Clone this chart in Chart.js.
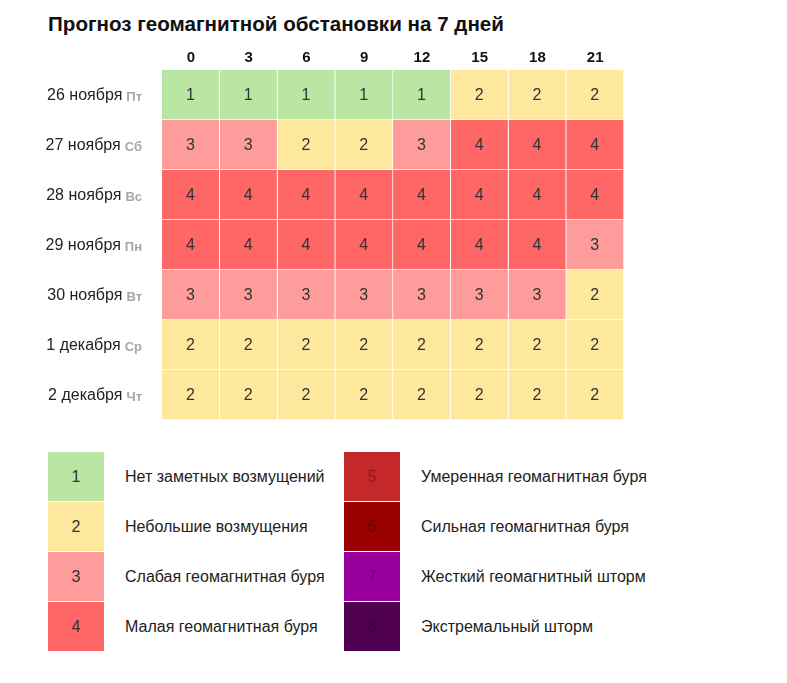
<!DOCTYPE html>
<html><head><meta charset="utf-8">
<script src="https://cdn.jsdelivr.net/npm/chart.js@4/dist/chart.umd.min.js"></script>
<style>
body{margin:0;background:#fff;font-family:"Liberation Sans",Arial,sans-serif;width:787px;height:683px;position:relative;overflow:hidden}
#title{position:absolute;left:48px;top:12px;font-weight:bold;font-size:20.6px;color:#111;white-space:nowrap}
#wrap{position:absolute;left:0;top:0;width:787px;height:430px}
.lg{position:absolute;width:56px;height:49px;text-align:center;line-height:49px;font-size:16px}
.lt{position:absolute;font-size:16px;color:#222;line-height:49px;white-space:nowrap}
</style></head><body>
<div id="title">Прогноз геомагнитной обстановки на 7 дней</div>
<div id="wrap"><canvas id="c" width="787" height="430"></canvas></div>
<div id="legend"></div>
<script>
const hours = ['0','3','6','9','12','15','18','21'];
const dates = ['26 ноября','27 ноября','28 ноября','29 ноября','30 ноября','1 декабря','2 декабря'];
const weekdays = ['Пт','Сб','Вс','Пн','Вт','Ср','Чт'];
const row26 = [1,1,1,1,1,2,2,2];
const row27 = [3,3,2,2,3,4,4,4];
const row28 = [4,4,4,4,4,4,4,4];
const row29 = [4,4,4,4,4,4,4,3];
const row30 = [3,3,3,3,3,3,3,2];
const row01 = [2,2,2,2,2,2,2,2];
const row02 = [2,2,2,2,2,2,2,2];
const levels = [row26,row27,row28,row29,row30,row01,row02];
const levelColors = ['#b9e6a3','#fee89e','#fe9c9c','#ff6666','#c4282a','#9a0000','#9a009e','#500050'];
const levelTextColors = ['#333','#333','#333','#333','#8a1c1c','#6a0000','#6a006e','#380038'];
const legendLabels = ['Нет заметных возмущений','Небольшие возмущения','Слабая геомагнитная буря','Малая геомагнитная буря','Умеренная геомагнитная буря','Сильная геомагнитная буря','Жесткий геомагнитный шторм','Экстремальный шторм'];

const datasets = hours.map((h, j) => ({
  label: h,
  data: levels.map(() => 1),
  levelValues: levels.map(r => r[j]),
  backgroundColor: levels.map(r => levelColors[r[j]-1]),
  borderColor: '#ffffff',
  borderWidth: {top:0,left:0,right:1,bottom:1},
  borderSkipped: false,
  barPercentage: 1,
  categoryPercentage: 1
}));

const cellText = {
  id:'cellText',
  afterDatasetsDraw(chart){
    const ctx = chart.ctx;
    ctx.save();
    ctx.font = '16px "Liberation Sans", Arial, sans-serif';
    ctx.textAlign = 'center';
    ctx.textBaseline = 'middle';
    chart.data.datasets.forEach((ds, j) => {
      chart.getDatasetMeta(j).data.forEach((bar, i) => {
        const v = ds.levelValues[i];
        const c = bar.getCenterPoint();
        ctx.fillStyle = levelTextColors[v-1];
        ctx.fillText(String(v), c.x - 0.5, c.y + 1);
      });
    });
    const y = chart.scales.y;
    const left = chart.chartArea.left;
    dates.forEach((d, i) => {
      const py = y.getPixelForValue(i) + 1;
      ctx.font = 'bold 13px "Liberation Sans", Arial, sans-serif';
      ctx.textAlign = 'right';
      ctx.fillStyle = '#a6a6a6';
      const ww = ctx.measureText(weekdays[i]).width;
      const wx = left - 20;
      ctx.fillText(weekdays[i], wx, py + 1);
      ctx.font = '16px "Liberation Sans", Arial, sans-serif';
      ctx.fillStyle = '#222';
      ctx.fillText(d, wx - ww - 4, py);
    });
    ctx.restore();
  }
};

new Chart(document.getElementById('c'), {
  type: 'bar',
  data: { labels: dates, datasets },
  options: {
    indexAxis: 'y',
    responsive: false,
    animation: false,
    devicePixelRatio: 1,
    layout: { padding: { left: 162, right: 163, top: 46, bottom: 10 } },
    plugins: { legend: { display: false }, tooltip: { enabled: false }, title: { display: false } },
    scales: {
      x: { type: 'linear', stacked: true, min: 0, max: 8, display: false },
      x2: { type: 'category', labels: hours, position: 'top', offset: true,
            grid: { display: false, drawTicks: false }, border: { display: false },
            ticks: { color: '#111', font: { family: '"Liberation Sans", Arial, sans-serif', size: 15, weight: 'bold' }, padding: 3, maxRotation: 0 } },
      y: { type: 'category', stacked: true, display: false }
    }
  },
  plugins: [cellText]
});

// legend (HTML)
const lg = document.getElementById('legend');
legendLabels.forEach((t, k) => {
  const col = Math.floor(k / 4), r = k % 4;
  const sx = col ? 344 : 48, tx = col ? 421 : 125;
  const sy = 452 + r * 50;
  const s = document.createElement('div');
  s.className = 'lg';
  s.style.left = sx + 'px'; s.style.top = sy + 'px';
  s.style.background = levelColors[k]; s.style.color = levelTextColors[k];
  s.textContent = String(k + 1);
  lg.appendChild(s);
  const l = document.createElement('div');
  l.className = 'lt';
  l.style.left = tx + 'px'; l.style.top = sy + 'px';
  l.textContent = t;
  lg.appendChild(l);
});
</script>
</body></html>
